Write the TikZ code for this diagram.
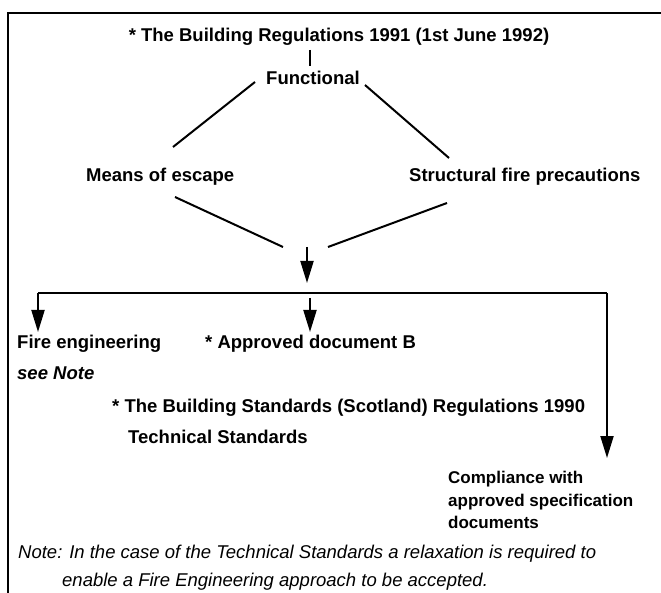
\documentclass[tikz,border=0pt]{standalone}
\usepackage{fontspec}
\setmainfont{Liberation Sans}
\usetikzlibrary{arrows.meta}
\begin{document}
\begin{tikzpicture}[x=1pt,y=-1pt,
  lbl/.style={inner sep=0pt,anchor=base west,font=\fontsize{18.5}{22}\selectfont\bfseries},
  lblc/.style={inner sep=0pt,anchor=base,font=\fontsize{18.5}{22}\selectfont\bfseries},
  ln/.style={line width=2pt},
  arr/.style={line width=2pt,-{Triangle[length=22pt,width=13pt]}},
  frame/.style={line width=2.2pt}]
\useasboundingbox (0,0) rectangle (661,593);
% frame
\coordinate (ftr) at (661,13);
\coordinate (ftl) at (8,13);
\coordinate (fbl) at (8,593);
\draw[frame] (ftr) -- (ftl) -- (fbl);
% texts
\node[lblc] (title) at (339,41.5) {* The Building Regulations 1991 (1st June 1992)};
\node[lblc] (func) at (313,84.5) {Functional};
\node[lbl] (moe) at (86,181.5) {Means of escape};
\node[lbl] (sfp) at (409,181.5) {Structural fire precautions};
\node[lbl] (fe) at (17,348.5) {Fire engineering};
\node[lbl] (adb) at (205,348.5) {* Approved document B};
\node[lbl,font=\fontsize{18.5}{22}\selectfont\bfseries\itshape] (see) at (17,380) {see Note};
\node[lbl] (bss) at (112,412.5) {* The Building Standards (Scotland) Regulations 1990};
\node[lbl] (ts) at (128,443.5) {Technical Standards};
\node[lbl,font=\fontsize{17}{22.5}\selectfont\bfseries,anchor=north west,align=left] (comp) at (448,471) {Compliance with\\approved specification\\documents};
\node[lbl,font=\fontsize{18.5}{22}\selectfont\itshape] (note1) at (18,558.5) {Note: In the case of the Technical Standards a relaxation is required to};
\node[lbl,font=\fontsize{18.5}{22}\selectfont\itshape] (note2) at (62,586.5) {enable a Fire Engineering approach to be accepted.};
% connector end points
\coordinate (v1) at (310,50);
\coordinate (v2) at (310,66);
\coordinate (dl1) at (255,82);
\coordinate (dl2) at (173,147);
\coordinate (dr1) at (365,85);
\coordinate (dr2) at (449,158);
\coordinate (el1) at (175,197);
\coordinate (el2) at (283,247);
\coordinate (er1) at (447,203);
\coordinate (er2) at (328,247);
\coordinate (ca1) at (307,247);
\coordinate (ca2) at (307,283);
\coordinate (hl) at (38,293);
\coordinate (hr) at (607,293);
\coordinate (la) at (38,332);
\coordinate (ma1) at (310,298);
\coordinate (ma2) at (310,332);
\coordinate (ra) at (607,458);
% connectors
\draw[ln] (v1) -- (v2);
\draw[ln] (dl1) -- (dl2);
\draw[ln] (dr1) -- (dr2);
\draw[ln] (el1) -- (el2);
\draw[ln] (er1) -- (er2);
\draw[arr] (ca1) -- (ca2);
\draw[ln] (hl) -- (hr);
\draw[arr] (hl) -- (la);
\draw[arr] (ma1) -- (ma2);
\draw[arr] (hr) -- (ra);
\end{tikzpicture}
\end{document}
